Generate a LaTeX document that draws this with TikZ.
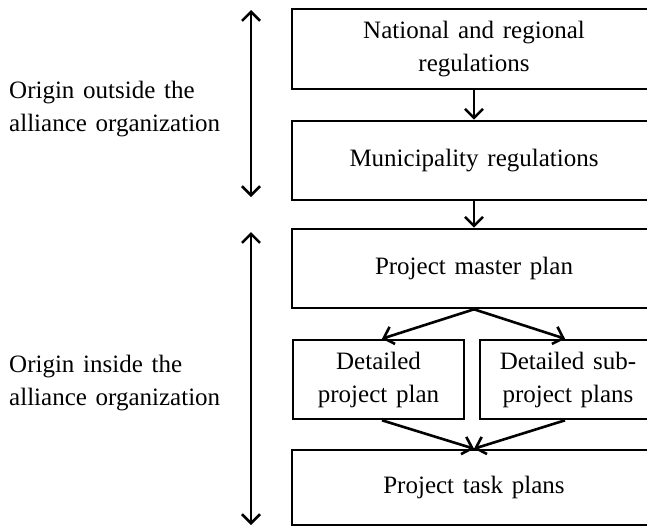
\documentclass[tikz,border=0pt]{standalone}
\usepackage{fontspec}
\setmainfont{Liberation Serif}
\usetikzlibrary{arrows.meta}
\newcommand\planfont{\fontsize{25}{33}\selectfont\spaceskip=0.35em plus 0.1em\relax}

\begin{document}
\begin{tikzpicture}[x=1pt,y=-1pt,
  every node/.style={font=\planfont},
  plan/.style={draw,line width=2.6pt,align=center,inner sep=0pt,minimum height=79pt},
  flow/.style={line width=2.6pt,-{Straight Barb[length=9pt,width=18pt,line width=2.6pt]}},
  span/.style={line width=2.6pt,{Straight Barb[length=9pt,width=18pt,line width=2.6pt]}-{Straight Barb[length=9pt,width=18pt,line width=2.6pt]}}]
\useasboundingbox (0,0) rectangle (647,528);
% plan boxes
\node[plan,minimum width=364pt,minimum height=80pt] (natreg) at (474,49) {National and regional\\regulations};
\node[plan,minimum width=364pt] (munreg) at (474,160.5) {Municipality regulations};
\node[plan,minimum width=364pt] (master) at (474,268.5) {Project master plan};
\node[plan,minimum width=171pt] (detail) at (378.5,379.5) {Detailed\\project plan};
\node[plan,minimum width=176pt] (subdet) at (568,379.5) {Detailed sub-\\project plans};
\node[plan,minimum width=364pt,minimum height=75pt] (task) at (474,487.5) {Project task plans};
% side labels
\node[anchor=west,align=left,inner sep=0pt] (outside) at (9,109) {Origin outside the\\alliance organization};
\node[anchor=west,align=left,inner sep=0pt] (inside) at (9,383) {Origin inside the\\alliance organization};
\coordinate (outtop) at (251,10);
\coordinate (outbot) at (251,197);
\coordinate (intop) at (251,232);
\coordinate (inbot) at (251,525);
% connectors
\draw[flow] (natreg.south) -- (munreg.north);
\draw[flow] (munreg.south) -- (master.north);
\draw[flow] (master.south) -- ([xshift=3.5pt]detail.north);
\draw[flow] (master.south) -- ([xshift=-3pt]subdet.north);
\draw[flow] ([xshift=3.5pt]detail.south) -- (task.north);
\draw[flow] ([xshift=-3pt]subdet.south) -- (task.north);
\draw[span] (outtop) -- (outbot);
\draw[span] (intop) -- (inbot);
\end{tikzpicture}
\end{document}
